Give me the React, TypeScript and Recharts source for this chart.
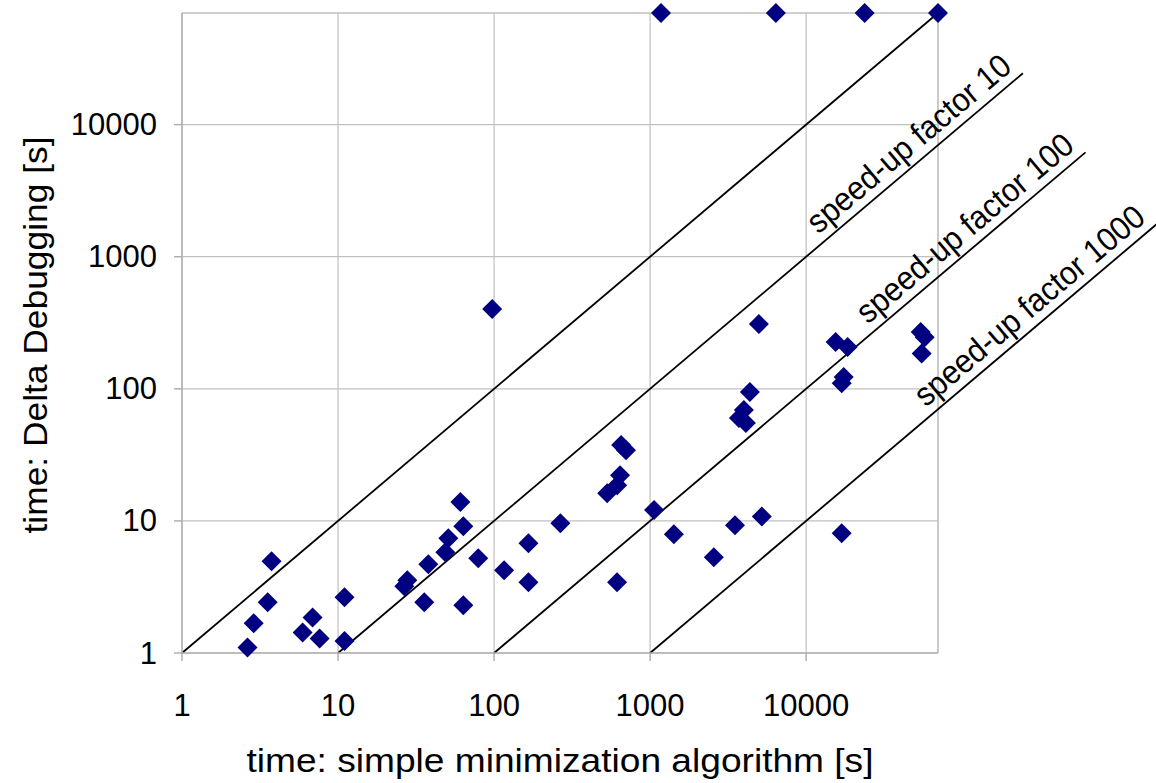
import {
  ScatterChart,
  Scatter,
  XAxis,
  YAxis,
  CartesianGrid,
  ReferenceLine,
  ReferenceDot,
  Label,
} from "recharts";

// run times in seconds
const simpleTimes = [
  2.63, 2.88, 3.54, 3.75, 5.93, 6.87, 7.62, 11.0, 11.0, 26.6, 27.8, 35.7, 37.9,
  48.7, 50.9, 60.8, 63.5, 63.5, 79.2, 97.3, 116, 166, 166, 266, 531, 615, 652,
  642, 701, 614, 1060, 1420, 2560, 1175, 6400, 23700, 70000, 3500, 4360, 3990,
  3710, 4110, 4980, 5200, 15450, 18450, 17400, 16900, 54200, 57500, 55000,
  16900,
];
const ddTimes = [
  1.1, 1.68, 2.42, 4.95, 1.43, 1.86, 1.29, 1.23, 2.64, 3.2, 3.56, 2.42, 4.7,
  5.79, 7.39, 13.9, 9.12, 2.3, 5.22, 402, 4.23, 6.78, 3.43, 9.6, 16.2, 18.6,
  37.5, 22.2, 34.3, 3.43, 12.1, 7.93, 5.31, 70000, 70000, 70000, 70000, 9.28,
  94.4, 69, 60, 55, 309, 10.8, 226, 207, 123, 110, 269, 246, 185, 8.07,
];

const axisTicks = [1, 10, 100, 1000, 10000];
const axisMax = 70000;

const speedUps = [1, 10, 100, 1000];
const lineEndX = [70000, 245000, 617000, 1760000];
const speedUpLabels = ["", "speed-up factor 10", "speed-up factor 100", "speed-up factor 1000"];

const data = simpleTimes.map((x, i) => ({ x, y: ddTimes[i] }));

const FONT = "'Liberation Sans', Arial, sans-serif";
const GRID = "#c0c0c0";
const W = 1156;
const H = 783;
const M = { top: 13, right: 218, bottom: 0, left: 0 };
const Y_W = 182;
const X_H = 130;
const plotW = W - M.left - M.right - Y_W;
const plotH = H - M.top - M.bottom - X_H;
const ANGLE = (Math.atan(plotH / plotW) * 180) / Math.PI;

const Diamond = (props: any) => {
  const { cx, cy } = props;
  if (cx == null || cy == null) return null;
  const r = 10;
  return (
    <path
      d={`M${cx},${cy - r}L${cx + r},${cy}L${cx},${cy + r}L${cx - r},${cy}Z`}
      fill="#000080"
    />
  );
};

const XTick = (props: any) => {
  const { x, y, payload } = props;
  return (
    <text x={x} y={y + 44} textAnchor="middle" dominantBaseline="central" fontSize={31} fontFamily={FONT} fill="#000">
      {payload.value}
    </text>
  );
};

const YTick = (props: any) => {
  const { x, y, payload } = props;
  return (
    <text x={x} y={y} textAnchor="end" dominantBaseline="central" fontSize={31} fontFamily={FONT} fill="#000">
      {payload.value}
    </text>
  );
};

const XTitle = (props: any) => {
  const vb = props.viewBox ?? { x: Y_W, y: M.top + plotH, width: plotW, height: X_H };
  return (
    <text
      x={vb.x + vb.width / 2}
      y={vb.y + 119}
      textAnchor="middle"
      fontSize={34}
      fontFamily={FONT}
      textLength={627}
      lengthAdjust="spacingAndGlyphs"
      fill="#000"
    >
      time: simple minimization algorithm [s]
    </text>
  );
};

const YTitle = (props: any) => {
  const vb = props.viewBox ?? { x: 0, y: M.top, width: Y_W, height: plotH };
  const cy = vb.y + vb.height / 2 + 2;
  return (
    <text
      x={47}
      y={cy}
      transform={`rotate(-90, 47, ${cy})`}
      textAnchor="middle"
      fontSize={34}
      fontFamily={FONT}
      textLength={397}
      lengthAdjust="spacingAndGlyphs"
      fill="#000"
    >
      time: Delta Debugging [s]
    </text>
  );
};

const lineLabel = (text: string) => (props: any) => {
  const { cx, cy } = props;
  if (cx == null || cy == null || !text) return <g />;
  return (
    <g transform={`translate(${cx},${cy}) rotate(${-ANGLE}) scale(0.93,1)`}>
      <text x={-5} y={-9} textAnchor="end" fontSize={33} fontFamily={FONT} fill="#000">
        {text}
      </text>
    </g>
  );
};

export default function App() {
  return (
    <div style={{ position: "absolute", left: 0, top: 0, width: W, height: H, background: "#fff" }}>
      <ScatterChart width={W} height={H} margin={M}>
        <CartesianGrid stroke={GRID} strokeWidth={1.2} />
        <XAxis
          dataKey="x"
          type="number"
          scale="log"
          domain={[1, axisMax]}
          ticks={axisTicks}
          height={X_H}
          stroke="#b0b0b0"
          strokeWidth={1.5}
          tickSize={8}
          tickMargin={0}
          tick={<XTick />}
          interval={0}
        >
          <Label content={<XTitle />} />
        </XAxis>
        <YAxis
          dataKey="y"
          type="number"
          scale="log"
          domain={[1, axisMax]}
          ticks={axisTicks}
          width={Y_W}
          stroke="#b0b0b0"
          strokeWidth={1.5}
          tickSize={8}
          tickMargin={17}
          tick={<YTick />}
          interval={0}
        >
          <Label content={<YTitle />} />
        </YAxis>
        <ReferenceLine y={axisMax} stroke={GRID} strokeWidth={1.2} />
        <ReferenceLine x={axisMax} stroke={GRID} strokeWidth={1.2} />
        {speedUps.map((f, i) => (
          <ReferenceLine
            key={`l${f}`}
            segment={[
              { x: f, y: 1 },
              { x: lineEndX[i], y: lineEndX[i] / f },
            ]}
            stroke="#000"
            strokeWidth={1.8}
            ifOverflow="visible"
          />
        ))}
        {speedUps.map((f, i) => (
          <ReferenceDot
            key={`t${f}`}
            x={lineEndX[i]}
            y={lineEndX[i] / f}
            r={0}
            ifOverflow="visible"
            shape={lineLabel(speedUpLabels[i])}
          />
        ))}
        <Scatter data={data} shape={<Diamond />} isAnimationActive={false} />
      </ScatterChart>
    </div>
  );
}
